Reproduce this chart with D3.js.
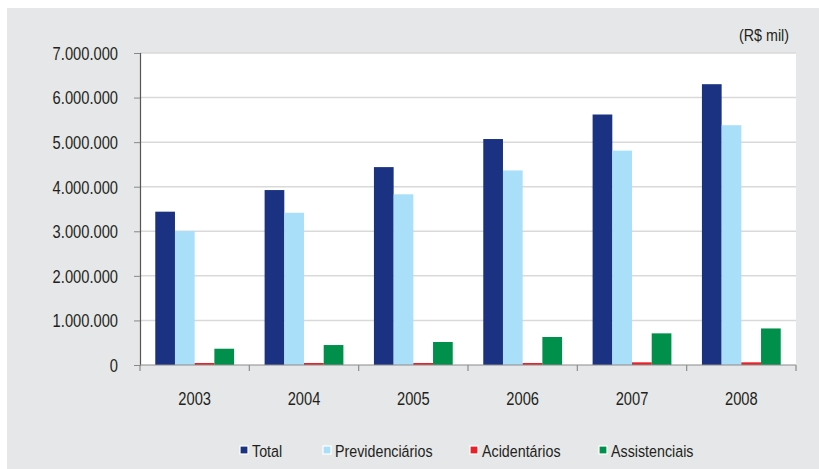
<!DOCTYPE html>
<html>
<head>
<meta charset="utf-8">
<script src="https://cdn.jsdelivr.net/npm/d3@7"></script>
<style>
html,body{margin:0;padding:0;background:#fff;}
svg{display:block;font-family:"Liberation Sans",Arial,sans-serif;}
</style>
</head>
<body>
<svg id="chart" width="819" height="469"></svg>
<script>
const years = ["2003","2004","2005","2006","2007","2008"];
const seriesNames = ["Total","Previdenciários","Acidentários","Assistenciais"];
const total = [3440000, 3925000, 4440000, 5070000, 5620000, 6300000];
const previdenciarios = [3005000, 3415000, 3830000, 4365000, 4810000, 5380000];
const acidentarios = [45000, 45000, 45000, 45000, 60000, 60000];
const assistenciais = [365000, 448000, 516000, 628000, 710000, 820000];
const yTicks = [0, 1000000, 2000000, 3000000, 4000000, 5000000, 6000000, 7000000];
const colors = ["#1a3281", "#aadff9", "#e8222a", "#00904c"];

const seriesValues = [total, previdenciarios, acidentarios, assistenciais];
const svg = d3.select("#chart");
const W = 819, H = 469;
const plot = {left:140, right:796, top:53, bottom:365};
const FONT = "Liberation Sans, Arial, sans-serif";
const SX = 0.84;

// compress text horizontally to mimic the narrow reference typeface
function narrow(sel){
  sel.each(function(){
    const t = d3.select(this);
    const xx = +t.attr("x") || 0, yy = +t.attr("y") || 0;
    t.attr("x",0).attr("y",0).attr("transform",`translate(${xx},${yy}) scale(${SX},1)`);
  });
}

// background
svg.append("rect").attr("x",7).attr("y",8).attr("width",W-7).attr("height",H-8).attr("fill","#e6e7e8");
svg.append("rect").attr("x",plot.left).attr("y",plot.top).attr("width",plot.right-plot.left).attr("height",plot.bottom-plot.top).attr("fill","#ffffff");

const x = d3.scaleBand().domain(years).range([plot.left, plot.right]).padding(0);
const xs = d3.scaleBand().domain(seriesNames).range([0, x.bandwidth()]).paddingInner(0).paddingOuter(0.775);
const y = d3.scaleLinear().domain([0, 7000000]).range([plot.bottom, plot.top]);

const loc = d3.formatLocale({decimal:",", thousands:".", grouping:[3], currency:["R$ ",""]});
const fmt = loc.format(",d");

// grid
svg.append("g").selectAll("line").data(yTicks.filter(d=>d>0)).join("line")
  .attr("x1",plot.left).attr("x2",plot.right)
  .attr("y1",d=>y(d)).attr("y2",d=>y(d))
  .attr("stroke","#d9d9d9").attr("stroke-width",1.5);

// bars
const groups = svg.append("g").selectAll("g").data(years).join("g")
  .attr("transform",d=>`translate(${x(d)},0)`);
groups.selectAll("rect").data((yr,i)=>seriesNames.map((s,j)=>({s, v:seriesValues[j][i], c:colors[j]}))).join("rect")
  .attr("x",d=>xs(d.s)).attr("width",xs.bandwidth())
  .attr("y",d=>y(d.v)).attr("height",d=>plot.bottom-y(d.v))
  .attr("fill",d=>d.c);

// left axis
const yAxis = d3.axisLeft(y).tickValues(yTicks).tickFormat(fmt).tickSize(6).tickPadding(16);
const ga = svg.append("g").attr("transform",`translate(${plot.left},0)`).call(yAxis);
ga.select(".domain").attr("stroke","#555").attr("stroke-width",1.2);
ga.selectAll(".tick line").attr("stroke","#888");
ga.selectAll(".tick text").attr("font-size",17.5).attr("fill","#231f20").attr("font-family",FONT).attr("dy","0.36em");
narrow(ga.selectAll(".tick text"));

// bottom axis
const gb = svg.append("g");
gb.append("line").attr("x1",plot.left).attr("x2",plot.right).attr("y1",plot.bottom).attr("y2",plot.bottom)
  .attr("stroke","#8c8c8c").attr("stroke-width",1.2);
const bounds = years.map(d=>x(d)).concat([x(years[years.length-1])+x.bandwidth()]);
gb.selectAll("line.t").data(bounds).join("line").attr("class","t")
  .attr("x1",d=>d).attr("x2",d=>d).attr("y1",plot.bottom).attr("y2",plot.bottom+6)
  .attr("stroke","#8c8c8c").attr("stroke-width",1.2);
gb.selectAll("text").data(years).join("text")
  .attr("x",d=>x(d)+x.bandwidth()/2).attr("y",405)
  .attr("text-anchor","middle").attr("font-size",17.5).attr("fill","#231f20").text(d=>d)
  .call(narrow);

// unit label
svg.append("text").attr("x",789).attr("y",41).attr("text-anchor","end")
  .attr("font-size",17).attr("fill","#231f20").text("(R$ mil)").call(narrow);

// legend
const legendX = [240, 323, 470, 599];
const lg = svg.append("g").selectAll("g").data(seriesNames).join("g")
  .attr("transform",(d,i)=>`translate(${legendX[i]},446)`);
lg.append("rect").attr("x",0).attr("y",0).attr("width",8).attr("height",8)
  .attr("fill",(d,i)=>colors[i]).attr("stroke","#fff").attr("stroke-width",1.2);
lg.append("text").attr("x",12).attr("y",10.5).attr("font-size",17).attr("fill","#231f20").text(d=>d).call(narrow);
</script>
</body>
</html>
